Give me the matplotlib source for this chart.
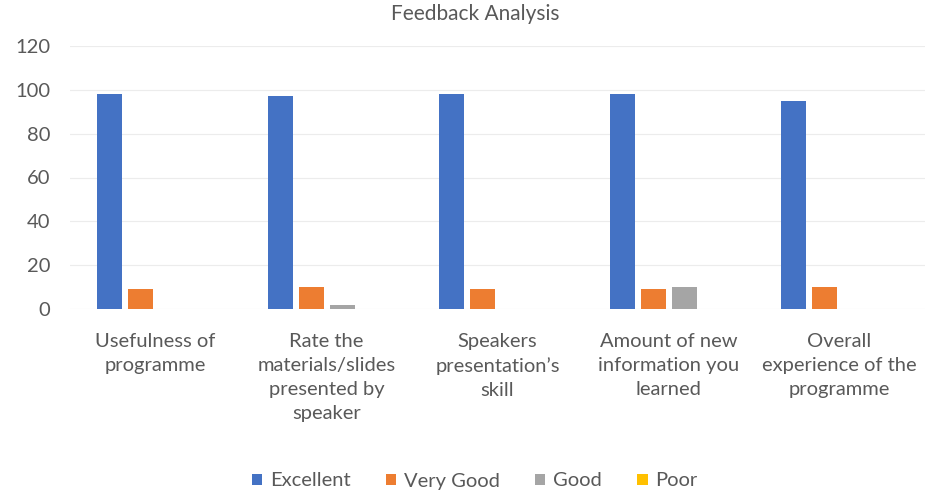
import matplotlib
matplotlib.use("Agg")
import matplotlib.pyplot as plt
import numpy as np

categories = ["Usefulness of\nprogramme",
              "Rate the\nmaterials/slides\npresented by\nspeaker",
              "Speakers\npresentation\u2019s\nskill",
              "Amount of new\ninformation you\nlearned",
              "Overall\nexperience of the\nprogramme"]
series_names = ["Excellent", "Very Good", "Good", "Poor"]
excellent = [98, 97, 98, 98, 95]
very_good = [9, 10, 9, 9, 10]
good = [0, 2, 0, 10, 0]
poor = [0, 0, 0, 0, 0]
yticks = [0, 20, 40, 60, 80, 100, 120]
colors = ["#4472C4", "#ED7D31", "#A5A5A5", "#FFC000"]

plt.rcParams['font.family'] = ['Lato', 'DejaVu Sans']
fig = plt.figure(figsize=(9.5, 4.92), dpi=100)
ax = fig.add_axes([70/950, 1-309/492, 855/950, (309-46)/492])

x = np.arange(len(categories))
w = 25/171
step = 31/171
data = [excellent, very_good, good, poor]
for i, (name, vals, c) in enumerate(zip(series_names, data, colors)):
    ax.bar(x + (i-1.5)*step, vals, width=w, color=c, label=name, zorder=3)

ax.set_xlim(-0.5, len(categories)-0.5)
ax.set_ylim(0, 120)
ax.set_yticks(yticks)
ax.yaxis.grid(True, color="#ececec", linewidth=0.8, zorder=0)
for s in ax.spines.values():
    s.set_visible(False)
ax.tick_params(axis='both', length=0, colors="#595959", labelsize=14.5)
ax.tick_params(axis='y', pad=14)
ax.set_xticks(x)
ax.set_xticklabels(categories, fontsize=14.5, linespacing=1.5, color="#595959")
ax.tick_params(axis='x', pad=17)

leg = fig.legend(loc='center', bbox_to_anchor=(0.5, 1-481/492), ncol=4, frameon=False,
                 fontsize=14.5, handlelength=0.5, handleheight=0.5, handletextpad=0.4,
                 columnspacing=1.75, labelcolor="#595959")

fig.text(0.5, 1-4/492, "Feedback Analysis", ha='center', va='top', fontsize=15, color="#595959")

fig.savefig("out.png", dpi=100)
